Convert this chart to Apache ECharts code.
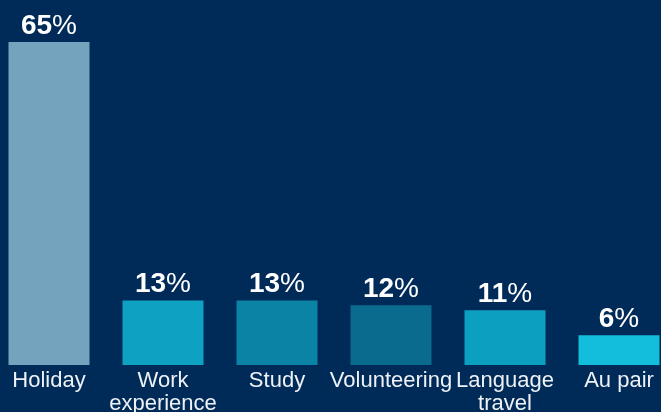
<!DOCTYPE html>
<html>
<head>
<meta charset="utf-8">
<script src="https://cdn.jsdelivr.net/npm/echarts@6/dist/echarts.min.js"></script>
<style>
  html, body { margin: 0; padding: 0; background: #002A58; overflow: hidden; width: 661px; height: 412px; }
  /* canvas is a bit wider than the page so the outer bars sit close to the edges */
  #chart { position: absolute; left: -8.5px; top: 0; width: 684px; height: 412px; }
</style>
</head>
<body>
<div id="chart"></div>
<script>
// Reasons for travelling abroad (share of respondents, %)
const categories = ['Holiday', 'Work\nexperience', 'Study', 'Volunteering', 'Language\ntravel', 'Au pair'];
const values = [65, 13, 13, 12, 11, 6];
const barColors = ['#74A3BE', '#0EA1C1', '#0A83A5', '#0A6B8F', '#0CA0C0', '#12BEDB'];

const FONT = 'Liberation Sans, Arial, sans-serif';

const chart = echarts.init(document.getElementById('chart'));
chart.setOption({
  backgroundColor: '#002A58',
  animation: false,
  grid: { left: 0, right: 0, top: 42, bottom: 47, containLabel: false, outerBoundsMode: 'none' },
  xAxis: {
    type: 'category',
    data: categories,
    axisLine: { show: false },
    axisTick: { show: false },
    axisLabel: {
      color: '#EEF2F6',
      fontFamily: FONT,
      fontSize: 22,
      lineHeight: 23,
      margin: 4,
      interval: 0
    }
  },
  yAxis: {
    type: 'value',
    min: 0,
    max: 65,
    show: false,
    splitLine: { show: false }
  },
  series: [{
    type: 'bar',
    barWidth: 81,
    data: values.map((v, i) => ({ value: v, itemStyle: { color: barColors[i] } })),
    label: {
      show: true,
      position: 'top',
      distance: 2,
      formatter: p => '{n|' + p.value + '}{p|%}',
      rich: {
        n: { color: '#FFFFFF', fontFamily: FONT, fontSize: 28, fontWeight: 'bold' },
        p: { color: '#FFFFFF', fontFamily: FONT, fontSize: 28, fontWeight: 'normal' }
      }
    }
  }]
});
</script>
</body>
</html>
